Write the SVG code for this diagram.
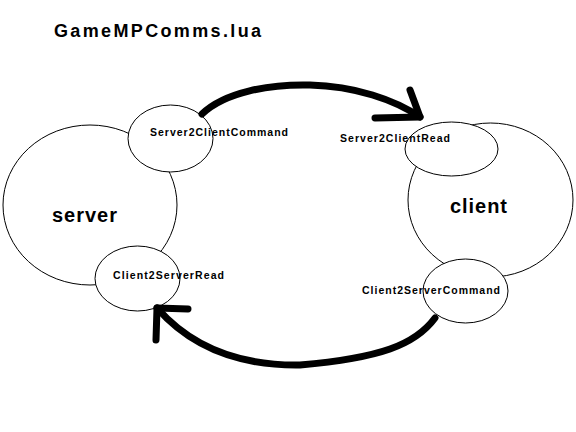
<svg xmlns="http://www.w3.org/2000/svg" width="576" height="432" viewBox="0 0 576 432">
<style>
.big{fill:white;stroke:black;stroke-width:1}
.small{fill:white;stroke:black;stroke-width:1}
text{font-family:"Liberation Sans",Arial,sans-serif;font-weight:bold;fill:black}
.lbl{font-size:10.5px}
.name{font-size:20px}
.arrow{fill:none;stroke:black;stroke-width:7;stroke-linecap:round;stroke-linejoin:round}
</style>
<rect width="576" height="432" fill="white"/>
<text x="54" y="37" font-size="18" textLength="207" lengthAdjust="spacing">GameMPComms.lua</text>
<g id="server">
<ellipse class="big" cx="90" cy="205" rx="87" ry="80"/>
<text class="name" x="52" y="222" textLength="65" lengthAdjust="spacing">server</text>
</g>
<g id="client">
<ellipse class="big" cx="490.5" cy="200" rx="82.5" ry="77"/>
<text class="name" x="450" y="213" textLength="57" lengthAdjust="spacing">client</text>
</g>
<g id="Server2ClientCommand">
<ellipse class="small" cx="170.5" cy="138.5" rx="42.5" ry="33.5"/>
<text class="lbl" x="150" y="135.5" textLength="138" lengthAdjust="spacing">Server2ClientCommand</text>
</g>
<g id="Server2ClientRead">
<ellipse class="small" cx="451.5" cy="149" rx="46.5" ry="27"/>
<text class="lbl" x="340" y="142" textLength="110" lengthAdjust="spacing">Server2ClientRead</text>
</g>
<g id="Client2ServerRead">
<ellipse class="small" cx="137.5" cy="278.5" rx="42.5" ry="32.5"/>
<text class="lbl" x="113" y="279" textLength="111" lengthAdjust="spacing">Client2ServerRead</text>
</g>
<g id="Client2ServerCommand">
<ellipse class="small" cx="465.5" cy="291" rx="42.5" ry="32"/>
<text class="lbl" x="362" y="294" textLength="138" lengthAdjust="spacing">Client2ServerCommand</text>
</g>
<g id="connectors">
<path class="arrow" d="M202,114 C225,92 270,84 310,85 C355,86 395,100 420,117"/>
<path class="arrow" d="M410,90 L420,117 L375,118"/>
<path class="arrow" d="M435,318 C415,345 380,358 300,365 C230,366 185,340 157,308"/>
<path class="arrow" d="M156,340 L157,308 L188,309"/>
</g>
</svg>
